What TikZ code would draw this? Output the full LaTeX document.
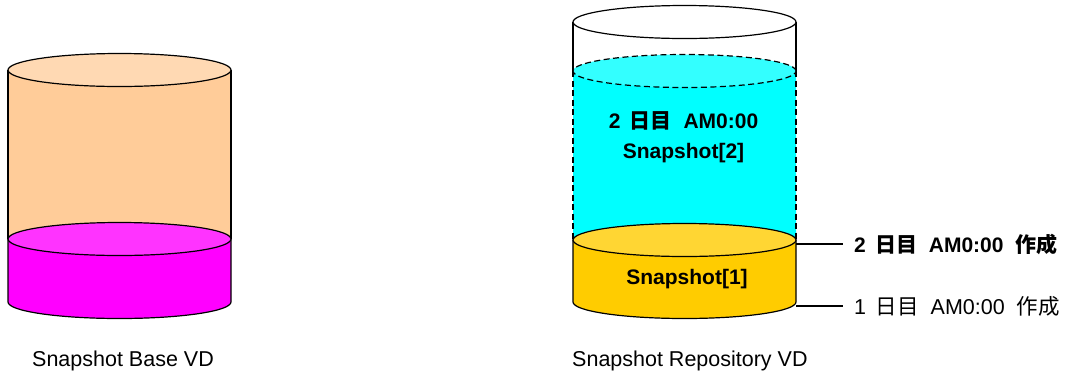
\documentclass[tikz,border=0pt]{standalone}
\usepackage{fontspec}
\setmainfont{Liberation Sans}
\newfontfamily\jp{Noto Sans CJK JP}
\definecolor{peach}{HTML}{FFCC99}
\definecolor{peachtop}{HTML}{FFD9B3}
\definecolor{mag}{HTML}{FF00FF}
\definecolor{magtop}{HTML}{FF33FF}
\definecolor{cyanb}{HTML}{00FFFF}
\definecolor{cyantop}{HTML}{33FFFF}
\definecolor{gold}{HTML}{FFCC00}
\definecolor{goldtop}{HTML}{FFD633}
\begin{document}
\begin{tikzpicture}[x=1pt,y=-1pt,
  edge/.style={line width=1.2pt},
  dashedge/.style={line width=1.2pt, dash pattern=on 6pt off 3.5pt},
  txt/.style={inner sep=0pt, font=\fontsize{21.5}{25}\selectfont},
  btxt/.style={inner sep=0pt, font=\fontsize{21}{25}\selectfont\bfseries},
  side/.style={inner xsep=11pt, inner ysep=0pt, text height=16pt, text depth=0pt, anchor=west},
  er/.style={x radius=111.5pt, y radius=16.5pt}]
\useasboundingbox (0,0) rectangle (1074,373);
% ---------- left cylinder ----------
\fill[peach] (8,70) -- (8,239) arc[start angle=180, end angle=360, er] -- (231,70) -- cycle;
\draw[edge] (8,70) -- (8,239);
\draw[edge] (231,70) -- (231,239);
\filldraw[fill=peachtop, edge] (119.5,70) ellipse[er];
\filldraw[fill=mag, edge] (8,239) -- (8,302) arc[start angle=180, end angle=360, er] -- (231,239) -- cycle;
\filldraw[fill=magtop, edge] (119.5,239) ellipse[er];
% ---------- right cylinder ----------
\fill[cyanb] (573,71) -- (573,240) arc[start angle=180, end angle=360, er] -- (796,71) -- cycle;
\draw[edge] (573,22) -- (573,71);
\draw[edge] (796,22) -- (796,71);
\draw[dashedge] (573,71) -- (573,240);
\draw[dashedge] (796,71) -- (796,240);
\fill[cyantop] (684.5,71) ellipse[er];
\draw[dashedge] (684.5,71) ellipse[er];
\filldraw[fill=white, edge] (684.5,22) ellipse[er];
\filldraw[fill=gold, edge] (573,240) -- (573,302) arc[start angle=180, end angle=360, er] -- (796,240) -- cycle;
\filldraw[fill=goldtop, edge] (684.5,240) ellipse[er];
% ---------- texts ----------
\node[btxt, anchor=base] (s2a) at (683.5,128) {2\hspace{0.45em}{\jp 日目}\hspace{0.55em}AM0:00};
\node[btxt, anchor=base] (s2b) at (683.5,158) {Snapshot[2]};
\node[btxt, anchor=base] (s1) at (687,284) {Snapshot[1]};
\coordinate (r2) at (796,244);
\coordinate (r1) at (796,306);
\node[btxt, side] (t2) at (843,244) {2\hspace{0.45em}{\jp 日目}\hspace{0.55em}AM0:00\hspace{0.55em}{\jp 作成}};
\node[txt, side] (t1) at (843,306) {1\hspace{0.45em}{\jp 日目}\hspace{0.55em}AM0:00\hspace{0.55em}{\jp 作成}};
\draw[edge] (r2) -- (t2.west);
\draw[edge] (r1) -- (t1.west);
\node[txt, anchor=base west] (lb) at (32,366) {Snapshot Base VD};
\node[txt, anchor=base west] (lr) at (572,366) {Snapshot Repository VD};
\end{tikzpicture}
\end{document}
